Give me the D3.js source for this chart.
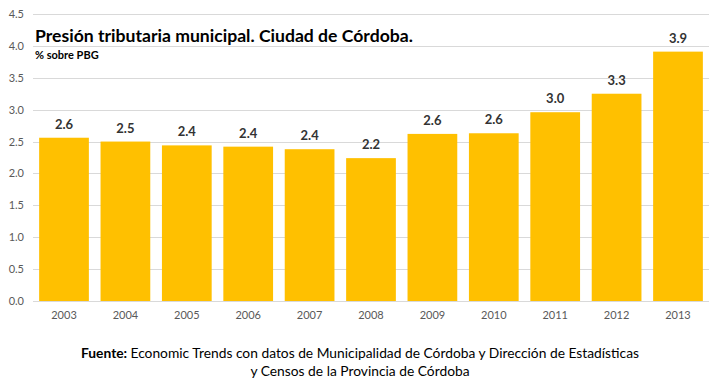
<!DOCTYPE html>
<html>
<head>
<meta charset="utf-8">
<script src="https://cdn.jsdelivr.net/npm/d3@7"></script>
<style>
  body { margin: 0; background: #fff; }
  text { font-family: Lato, "Open Sans", sans-serif; }
</style>
</head>
<body>
<svg id="chart" width="719" height="383"></svg>
<script>
// datos
var years = ['2003','2004','2005','2006','2007','2008','2009','2010','2011','2012','2013'];
var presion = [2.56, 2.50, 2.44, 2.42, 2.38, 2.24, 2.62, 2.63, 2.96, 3.25, 3.91];
var etiquetas = ['2.6','2.5','2.4','2.4','2.4','2.2','2.6','2.6','3.0','3.3','3.9'];
var yTicks = [0, 0.5, 1, 1.5, 2, 2.5, 3, 3.5, 4, 4.5];

var svg = d3.select('#chart');
var plotLeft = 33, plotRight = 709, plotTop = 14, plotBottom = 301;

var x = d3.scaleBand().domain(years).range([plotLeft, plotRight]).paddingInner(0.19).paddingOuter(0.1);
var y = d3.scaleLinear().domain([0, 4.5]).range([plotBottom, plotTop]);

// grilla
svg.append('g').selectAll('line').data(yTicks).enter().append('line')
  .attr('x1', plotLeft).attr('x2', plotRight)
  .attr('y1', function(d){ return Math.round(y(d)) + 0.5; })
  .attr('y2', function(d){ return Math.round(y(d)) + 0.5; })
  .style('stroke', '#d9d9d9').style('stroke-width', 1);

// eje y
var yAxis = svg.append('g').attr('transform', 'translate(' + plotLeft + ',0)')
  .call(d3.axisLeft(y).tickValues(yTicks).tickFormat(d3.format('.1f')).tickSize(0).tickPadding(9));
yAxis.select('.domain').remove();
yAxis.selectAll('text').style('font-size', '11px').style('fill', '#595959')
  .style('font-family', 'Lato, sans-serif');

// barras
svg.append('g').selectAll('rect').data(presion).enter().append('rect')
  .attr('x', function(d, i){ return x(years[i]); })
  .attr('width', x.bandwidth())
  .attr('y', function(d){ return y(d); })
  .attr('height', function(d){ return y(0) - y(d); })
  .style('fill', '#ffc000');

// valores
svg.append('g').selectAll('text').data(presion).enter().append('text')
  .attr('x', function(d, i){ return x(years[i]) + x.bandwidth()/2; })
  .attr('y', function(d){ return y(d) - 9; })
  .attr('text-anchor', 'middle')
  .style('font-size', '13px').style('font-weight', 'bold').style('fill', '#333')
  .text(function(d, i){ return etiquetas[i]; });

// eje x
var xAxis = svg.append('g').attr('transform', 'translate(0,' + plotBottom + ')')
  .call(d3.axisBottom(x).tickSize(0).tickPadding(10));
xAxis.select('.domain').remove();
xAxis.selectAll('text').style('font-size', '11px').style('fill', '#595959')
  .style('font-family', 'Lato, sans-serif');

// títulos
svg.append('text').attr('x', 35).attr('y', 42)
  .style('font-size', '17.6px').style('font-weight', 'bold').style('fill', '#000')
  .text('Presión tributaria municipal. Ciudad de Córdoba.');
svg.append('text').attr('x', 35).attr('y', 59)
  .style('font-size', '11px').style('font-weight', 'bold').style('fill', '#000')
  .text('% sobre PBG');

// fuente
var f1 = svg.append('text').attr('x', 360).attr('y', 358).attr('text-anchor', 'middle')
  .style('font-size', '13.8px').style('fill', '#000');
f1.append('tspan').style('font-weight', 'bold').text('Fuente: ');
f1.append('tspan').text('Economic Trends con datos de Municipalidad de Córdoba y Dirección de Estadísticas');
svg.append('text').attr('x', 360).attr('y', 376).attr('text-anchor', 'middle')
  .style('font-size', '13.8px').style('fill', '#000')
  .text('y Censos de la Provincia de Córdoba');
</script>
</body>
</html>
